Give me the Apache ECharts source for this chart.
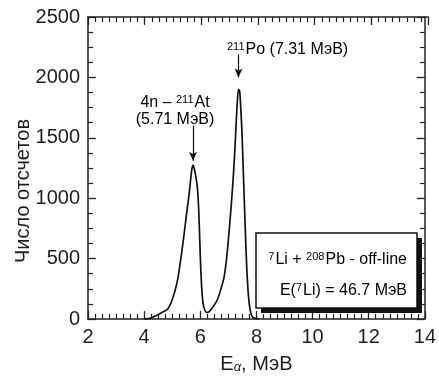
<!DOCTYPE html>
<html><head><meta charset="utf-8">
<script src="https://cdn.jsdelivr.net/npm/echarts@6/dist/echarts.min.js"></script>
<style>html,body{margin:0;padding:0;background:#fff}#c{width:439px;height:379px}</style>
</head><body><div id="c"></div>
<script>
// Alpha spectrum: energy (MeV) and counts
const energy = [4.0, 4.2, 4.4, 4.6, 4.8, 4.9, 5.0, 5.1, 5.2, 5.3, 5.4, 5.5, 5.6, 5.65, 5.7, 5.74, 5.78, 5.84, 5.9, 5.95, 6.0, 6.05, 6.1, 6.16, 6.22, 6.27, 6.35, 6.45, 6.6, 6.75, 6.85, 6.95, 7.05, 7.15, 7.22, 7.28, 7.32, 7.36, 7.4, 7.44, 7.48, 7.54, 7.6, 7.66, 7.72, 7.78, 7.85, 7.95, 8.1];
const counts = [0, 5, 25, 50, 75, 105, 160, 235, 335, 490, 660, 850, 1030, 1140, 1240, 1275, 1250, 1180, 1080, 870, 520, 260, 130, 75, 55, 55, 70, 100, 155, 260, 350, 530, 790, 1090, 1350, 1630, 1800, 1900, 1890, 1750, 1570, 1170, 760, 400, 180, 70, 20, 5, 0];
const xTickValues = [2, 4, 6, 8, 10, 12, 14];
const yTickValues = [0, 500, 1000, 1500, 2000, 2500];
const peakArrows = [[7.36, 2190, 2000], [5.74, 1600, 1310]];

const FONT = '"Liberation Sans", Arial, sans-serif';
const TXT = '#1e1e1e';
const chart = echarts.init(document.getElementById('c'), null, {renderer: 'canvas'});

function makeAxis(kind, position, minorSplit, showLabels, gridIndex) {
  const vals = kind === 'x' ? xTickValues : yTickValues;
  return {
    type: 'value',
    gridIndex: gridIndex || 0,
    position: position,
    min: vals[0],
    max: vals[vals.length - 1],
    interval: vals[1] - vals[0],
    axisLine: {show: true, lineStyle: {color: '#222', width: 1.5}},
    axisTick: {show: true, inside: true, length: 8, lineStyle: {color: '#222', width: 1.3}},
    minorTick: {show: true, splitNumber: minorSplit, length: 5, lineStyle: {color: '#222', width: 1.2}},
    splitLine: {show: true, lineStyle: {color: 'rgba(0,0,0,0)'}},
    axisLabel: showLabels
      ? {show: true, fontSize: 20, fontFamily: FONT, color: TXT, margin: 8, formatter: v => String(v)}
      : {show: false}
  };
}

const supRich = {
  n: {fontSize: 16, fontFamily: FONT, color: TXT, lineHeight: 17},
  sup: {fontSize: 11, fontFamily: FONT, color: TXT, verticalAlign: 'top', lineHeight: 17, padding: [0, 1, 5, 0]}
};

const xBottom = makeAxis('x', 'bottom', 8, true, 0);
Object.assign(xBottom, {
  name: 'E{sub|α}{n|, МэВ}', nameLocation: 'middle', nameGap: 35,
  nameTextStyle: {fontSize: 20, fontFamily: FONT, color: TXT,
    rich: {n: {fontSize: 20, fontFamily: FONT, color: TXT},
           sub: {fontSize: 13, fontStyle: 'italic', fontFamily: FONT, color: TXT, verticalAlign: 'bottom', padding: [6, 0, 0, 0]}}}
});

const gridRect = {left: 88, right: 11, top: 17, bottom: 57};

chart.setOption({
  animation: false,
  grid: [Object.assign({}, gridRect), Object.assign({}, gridRect)],
  xAxis: [xBottom, makeAxis('x', 'top', 8, false, 1)],
  yAxis: [
    makeAxis('y', 'left', 4, true, 0),
    makeAxis('y', 'right', 4, false, 0),
    {type: 'value', gridIndex: 1, min: 1, max: 2, show: false}
  ],
  series: [{
    type: 'line',
    data: energy.map((e, i) => [e, counts[i]]),
    showSymbol: false,
    symbol: 'none',
    smooth: 0.3,
    lineStyle: {color: '#111', width: 1.7},
    z: 3,
    markLine: {
      silent: true,
      symbol: ['none', 'arrow'],
      symbolSize: [6, 9],
      label: {show: false},
      lineStyle: {color: '#111', width: 1.2, type: 'solid'},
      data: peakArrows.map(a => [{coord: [a[0], a[1]]}, {coord: [a[0], a[2]]}])
    }
  }],
  graphic: [
    {type: 'text', x: 23, y: 191, rotation: Math.PI / 2,
      style: {text: 'Число отсчетов', fontSize: 20, fontFamily: FONT, fill: TXT, align: 'center', verticalAlign: 'middle'}},
    {type: 'text', x: 227, y: 50,
      style: {text: '{sup|211}{n|Po (7.31 МэВ)}', align: 'left', verticalAlign: 'middle', rich: supRich}},
    {type: 'text', x: 175, y: 111,
      style: {text: '{n|4n – }{sup|211}{n|At}\n{n|(5.71 МэВ)}', align: 'center', verticalAlign: 'middle', rich: supRich}},
    {type: 'rect', shape: {x: 261, y: 238, width: 161, height: 75}, style: {fill: '#111'}, z: 10},
    {type: 'rect', shape: {x: 256, y: 233, width: 161, height: 75}, style: {fill: '#fff', stroke: '#111', lineWidth: 1.5}, z: 11},
    {type: 'text', x: 407, y: 260, z: 12,
      style: {text: '{sup|7}{n|Li + }{sup|208}{n|Pb - off-line}', align: 'right', verticalAlign: 'middle', rich: supRich}},
    {type: 'text', x: 407, y: 291, z: 12,
      style: {text: '{n|E(}{sup|7}{n|Li) = 46.7 МэВ}', align: 'right', verticalAlign: 'middle', rich: supRich}}
  ]
});
</script>
</body></html>
